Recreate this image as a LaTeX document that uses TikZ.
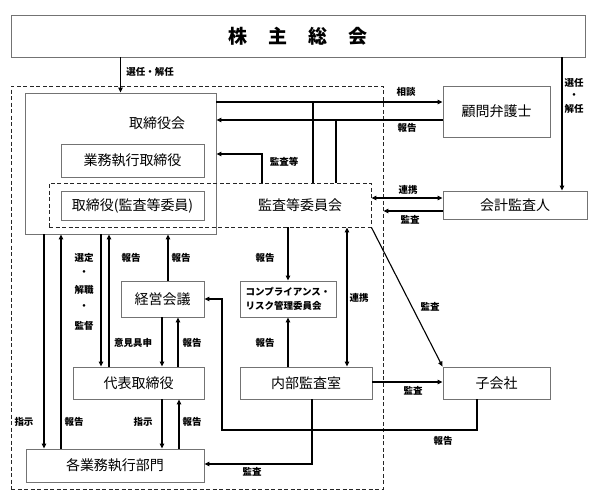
\documentclass[tikz,border=0pt]{standalone}
\usepackage{fontspec}
\setmainfont{Noto Sans CJK JP}
\usetikzlibrary{arrows.meta}
\begin{document}
\begin{tikzpicture}[x=1pt,y=-1pt,
  box/.style={draw=black!55,line width=0.9pt,fill=white,inner sep=0pt,font=\fontsize{14}{16}\selectfont},
  dbox/.style={draw=black!85,line width=0.9pt,dashed,dash pattern=on 4pt off 2.5pt,inner sep=0pt},
  lab/.style={font=\fontsize{9.5}{11}\selectfont\bfseries,inner sep=0pt},
  tip/.tip={Triangle[length=5pt,width=4.5pt]},
  arr/.style={line width=1.1pt,-tip},
  darr/.style={line width=1.1pt,tip-tip},
  ln/.style={line width=1.1pt}]
\useasboundingbox (0,0) rectangle (598,504);
% boxes
\node[box,minimum width=574pt,minimum height=42pt,font=\fontsize{19}{22}\selectfont\bfseries] (soukai) at (298,36) {株\hspace{21pt}主\hspace{21pt}総\hspace{21pt}会};
\node[dbox,minimum width=372pt,minimum height=403pt] (outer) at (197,287.5) {};
\node[box,minimum width=191pt,minimum height=141pt] (torishimari) at (120.5,163.5) {};
\node[font=\fontsize{14}{16}\selectfont,inner sep=0pt] (torilab) at (157,123) {取締役会};
\node[box,minimum width=143pt,minimum height=33pt] (gyomu) at (132.5,160.5) {業務執行取締役};
\node[dbox,minimum width=322pt,minimum height=44pt] (kansaiin) at (210,205) {};
\node[font=\fontsize{14}{16}\selectfont,inner sep=0pt] (kansalab) at (300,205) {監査等委員会};
\node[box,minimum width=143pt,minimum height=29pt] (torikansa) at (132.5,205.5) {取締役(監査等委員)};
\node[box,minimum width=107pt,minimum height=51pt] (komon) at (496.5,111.5) {顧問弁護士};
\node[box,minimum width=144pt,minimum height=28pt] (kaikei) at (515,205) {会計監査人};
\node[box,minimum width=83pt,minimum height=36pt] (keiei) at (162.5,299) {経営会議};
\node[box,minimum width=96pt,minimum height=36pt,font=\fontsize{9.5}{14}\selectfont\bfseries,align=left] (comp) at (288,299) {コンプライアンス・\\リスク管理委員会};
\node[box,minimum width=131pt,minimum height=32pt] (daihyo) at (138.5,383) {代表取締役};
\node[box,minimum width=132pt,minimum height=32pt] (naibu) at (306,383) {内部監査室};
\node[box,minimum width=107pt,minimum height=32pt] (kogaisha) at (496.5,383) {子会社};
\node[box,minimum width=178pt,minimum height=33pt] (kakugyomu) at (115,465.5) {各業務執行部門};
% connectors
\draw[arr] (torishimari.north |- soukai.south) -- (torishimari.north);
\node[lab] (l1) at (150,72) {選任・解任};
\draw[arr] (torishimari.east |- 0,102) -- (komon.west |- 0,102);
\node[lab] (l2) at (406,92) {相談};
\draw[arr] (komon.west |- 0,120) -- (torishimari.east |- 0,120);
\node[lab] (l3) at (407,128) {報告};
\draw[ln] (kansaiin.north -| 313,0) -- (313,102);
\draw[ln] (kansaiin.north -| 336,0) -- (336,120);
\draw[arr] (kansaiin.north -| 262,0) -- (262,154) -- (torishimari.east |- 0,154);
\node[lab] (l4) at (284,162) {監査等};
\draw[arr] (soukai.south -| 562,0) -- (kaikei.north -| 562,0);
\node[lab] (l5a) at (574,83) {選任};
\node[lab] (l5b) at (574,96) {・};
\node[lab] (l5c) at (574,109) {解任};
\draw[darr] (kansaiin.east |- 0,198) -- (kaikei.west |- 0,198);
\node[lab] (l6) at (408,190) {連携};
\draw[arr] (kaikei.west |- 0,211) -- (outer.east |- 0,211);
\node[lab] (l7) at (410,220) {監査};
% left column
\draw[arr] (torishimari.south -| 44,0) -- (kakugyomu.north -| 44,0);
\node[lab] (l8) at (24,422) {指示};
\draw[arr] (kakugyomu.north -| 61,0) -- (torishimari.south -| 61,0);
\node[lab] (l9) at (74,422) {報告};
\draw[arr] (torishimari.south -| 101,0) -- (daihyo.north -| 101,0);
\node[lab] (l10a) at (84,258) {選定};
\node[lab] (l10b) at (84,273) {・};
\node[lab] (l10c) at (84,290) {解職};
\node[lab] (l10d) at (84,307) {・};
\node[lab] (l10e) at (84,326) {監督};
\draw[arr] (daihyo.north -| 109,0) -- (torishimari.south -| 109,0);
\node[lab] (l11) at (131,258) {報告};
\draw[arr] (keiei.north -| 168,0) -- (torishimari.south -| 168,0);
\node[lab] (l12) at (181,258) {報告};
\draw[arr] (keiei.south -| 162,0) -- (daihyo.north -| 162,0);
\node[lab] (l13) at (133,343) {意見具申};
\draw[arr] (daihyo.north -| 178,0) -- (keiei.south -| 178,0);
\node[lab] (l14) at (192,343) {報告};
\draw[arr] (daihyo.south -| 162,0) -- (kakugyomu.north -| 162,0);
\node[lab] (l15) at (143,422) {指示};
\draw[arr] (kakugyomu.north -| 179,0) -- (daihyo.south -| 179,0);
\node[lab] (l16) at (192,422) {報告};
% middle
\draw[arr] (kansaiin.south -| comp.north) -- (comp.north);
\node[lab] (l17) at (265,258) {報告};
\draw[arr] (naibu.north -| comp.south) -- (comp.south);
\node[lab] (l18) at (265,343) {報告};
\draw[darr] (kansaiin.south -| 347,0) -- (naibu.north -| 347,0);
\node[lab] (l19) at (359,298) {連携};
\draw[arr] (kansaiin.south east) -- (kogaisha.north west);
\node[lab] (l20) at (430,307) {監査};
\draw[arr] (naibu.east |- 0,382) -- (kogaisha.west |- 0,382);
\node[lab] (l21) at (413,391) {監査};
\draw[arr] (kogaisha.south -| 477,0) -- (477,430) -- (222,430) -- (222,299) -- (keiei.east);
\node[lab] (l22) at (443,441) {報告};
\draw[arr] (naibu.south -| 312,0) -- (312,464) -- (kakugyomu.east |- 0,464);
\node[lab] (l23) at (252,472) {監査};
\end{tikzpicture}
\end{document}
